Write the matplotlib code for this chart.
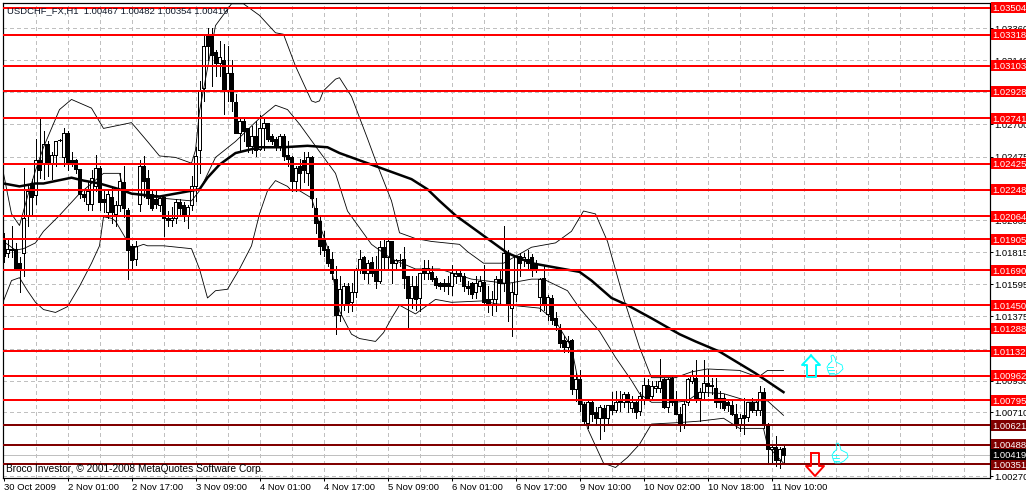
import matplotlib
matplotlib.use("Agg")
import matplotlib.pyplot as plt
import numpy as np
from matplotlib.patches import Rectangle
from matplotlib.lines import Line2D
from matplotlib.transforms import blended_transform_factory

# ---- data: pips above 1.0000, hourly bars ----
opens = [191,181,183,184,174,181,207,229,221,245,
 243,256,243,249,259,247,264,245,245,239,
 222,215,215,227,240,218,209,220,208,214,
 230,211,186,177,215,241,233,222,218,214,
 220,205,204,205,216,214,207,214,227,252,
 295,332,332,320,312,314,293,305,285,264,
 272,267,255,262,253,267,271,262,260,255,
 262,249,247,231,241,245,236,247,212,203,
 191,184,177,163,138,146,158,147,154,170,
 178,167,175,170,162,185,178,189,174,176,
 177,165,150,158,150,171,167,168,164,160,
 160,160,158,165,167,165,158,160,154,158,
 161,149,146,149,163,160,181,143,153,179,
 176,177,178,173,151,164,139,150,136,129,
 121,116,121,87,94,77,64,78,71,67,
 74,67,76,73,79,78,84,74,78,72,
 80,90,82,88,88,94,75,95,79,70,
 62,78,93,95,81,85,91,89,88,81,
 81,78,76,70,63,69,68,78,73,73,
 85,62,46,47,38,46.7]
highs = [195,190,200,188,178,240,227,232,260,274,
 265,258,251,258,260,267,265,251,246,239,
 225,231,238,249,241,224,224,227,217,236,
 241,212,187,189,245,248,238,224,224,220,
 220,210,213,218,218,216,214,234,254,300,
 331,336,336,321,327,325,324,314,291,274,
 274,267,269,272,276,274,271,263,261,263,
 263,258,248,241,246,251,251,248,219,206,
 196,186,182,172,165,160,160,160,171,183,
 179,176,178,179,189,191,191,189,177,180,
 185,165,165,165,167,176,176,172,165,161,
 163,165,173,170,170,167,162,161,165,165,
 173,158,155,165,170,200,183,160,179,181,
 181,183,180,176,164,172,152,152,140,132,
 124,124,122,98,100,78,80,80,75,76,
 76,76,85,86,86,85,85,82,79,85,
 95,94,93,93,108,95,95,96,86,75,
 79,95,100,107,88,107,101,95,95,86,
 84,80,80,77,70,81,78,81,80,89,
 88,64,49,55,47,48.2]
lows = [175,178,178,170,154,165,200,207,215,233,
 232,234,232,241,258,241,238,241,236,219,
 217,211,211,224,211,209,205,202,200,210,
 206,163,170,173,210,220,215,211,212,210,
 193,200,200,202,207,203,198,211,217,236,
 286,314,296,303,303,277,286,279,264,251,
 258,251,250,248,252,252,258,256,252,252,
 245,241,224,224,225,230,228,213,195,180,
 179,172,163,125,134,142,140,141,151,167,
 163,160,165,157,160,171,170,160,170,172,
 157,130,143,142,141,163,163,162,157,156,
 155,153,152,160,162,155,153,150,150,155,
 145,140,138,141,145,155,134,124,148,165,
 172,170,165,168,141,142,135,132,128,116,
 113,113,84,79,72,62,60,65,63,53,
 58,62,70,71,72,75,71,71,67,69,
 77,80,80,85,85,74,71,76,70,58,
 60,76,91,78,65,80,82,84,75,74,
 73,72,69,60,58,56,65,71,69,69,
 60,36,36,34,33,35.4]
closes = [179,184,184,171,169,205,224,220,245,238,
 256,243,249,258,259,264,244,244,239,222,
 220,224,233,240,216,216,222,209,214,231,
 212,183,176,186,241,231,219,212,215,219,
 205,204,205,216,212,207,213,227,248,293,
 324,324,318,312,316,293,305,286,264,272,
 265,255,262,252,267,271,260,258,255,262,
 248,246,231,240,236,238,247,219,202,186,
 183,174,167,138,156,158,145,154,170,177,
 167,174,167,162,185,178,189,174,176,176,
 164,150,158,149,167,167,171,163,159,158,
 158,158,167,167,165,158,157,153,160,162,
 147,146,149,163,160,181,145,154,179,174,
 178,174,171,171,163,145,151,135,131,119,
 116,120,87,94,77,65,78,70,67,75,
 67,76,73,78,78,84,78,78,71,82,
 90,81,89,89,93,75,94,78,70,62,
 77,94,96,81,85,91,89,90,78,78,
 74,76,70,63,67,67,78,73,78,85,
 62,46,47,38,46,41.9]

upper_bars = [0,2,4,6,8,10,14,17,22,25,32,36,39,43,47,48,49,53,57,60,64,68,70,73,77,78,79,80,83,84,87,91,93,97,99,103,107,114,116,120,125,132,138,142,145,148,151,155,159,162,168,172,176,184,187,189,191,195]
upper_pips = [236,208,200,220,238,254,280,287,281,267,271,258,248,247,243,252,279,338,353,353,345,333,332,310,286,285,286,293,301,302,289,260,245,217,195,191,189,187,182,174,174,185,188,196,210,208,189,150,116,95,95,99,101,100,97,96,100,100]
mid_bars = [0,3,5,8,10,14,19,25,29,30,32,36,39,47,49,53,58,64,68,71,74,79,83,86,92,97,103,109,117,126,132,135,141,144,149,153,157,159,162,168,171,174,180,186,191,195]
mid_pips = [189,183,184,188,196,207,222,236,236,225,222,220,219,217,224,247,258,274,283,280,270,251,236,210,187,177,170,170,163,160,163,163,155,143,127,109,93,84,78,78,79,85,84,79,79,69]
lower_bars = [0,2,4,6,8,10,13,16,19,22,24,25,27,28,31,32,35,36,40,47,49,51,53,56,59,62,64,66,68,71,72,74,77,79,81,84,87,89,93,95,97,99,103,108,112,120,123,134,138,142,146,150,153,156,159,162,169,174,180,184,190,191,195]
lower_pips = [148,162,164,155,147,142,140,144,158,174,186,206,205,203,189,184,187,186,186,184,170,150,155,156,170,186,208,224,231,227,224,224,219,201,185,141,125,122,120,126,136,145,139,149,147,148,146,143,134,116,60,36,33,40,49,63,64,65,67,60,60,48,36]
ma_bars = [0,4,8,10,17,20,24,29,32,39,43,49,51,54,58,64,70,76,81,84,93,102,106,109,113,120,126,132,138,144,147,152,156,162,169,173,179,188,195]
ma_pips = [229,227,229,229,233,231,229,225,222,220,222,225,233,242,250,254,254,255,254,250,241,232,225,217,207,193,181,174,171,168,162,150,145,136,125,120,113,98,85]

red_levels = [1.03504,1.03318,1.03103,1.02928,1.02741,1.02425,1.02248,1.02064,1.01905,1.01690,1.01450,1.01288,1.01132,1.00962,1.00795]
dark_levels = [1.00621,1.00488,1.00351]
last_price = 1.00419
price_ticks = [1.00270,1.00490,1.00710,1.00930,1.01150,1.01375,1.01595,1.01815,1.02035,1.02255,1.02475,1.02700,1.02920,1.03140,1.03360]
time_labels = ["30 Oct 2009","2 Nov 01:00","2 Nov 17:00","3 Nov 09:00","4 Nov 01:00","4 Nov 17:00","5 Nov 09:00","6 Nov 01:00","6 Nov 17:00","9 Nov 10:00","10 Nov 02:00","10 Nov 18:00","11 Nov 10:00"]

W, H = 1026, 495
plt.rcParams['font.family'] = ['Liberation Sans', 'DejaVu Sans']
FS = 6.8
PX = 0.72
THIN = 0.6
fig = plt.figure(figsize=(W/100, H/100), dpi=100, facecolor='white')
ax = fig.add_axes([2.5/W, 1-477.5/H, 987/W, 475/H])
ax.set_xlim(-0.25, 246.5)
ax.set_ylim(1.00261, 1.03539)

def price(p):
    return 1 + np.asarray(p, dtype=float)/1e4

o, h, l, c = map(price, (opens, highs, lows, closes))
n = np.arange(len(o))

# grid
ax.vlines(np.arange(8, 244, 8), 1.00261, 1.03539, color='#c0c0c0', lw=PX, linestyle=(0,(4,4)), zorder=0, antialiased=False)
ax.hlines(price_ticks, -0.25, 246.5, color='#c0c0c0', lw=PX, linestyle=(0,(4,4)), zorder=0, antialiased=False)
ax.axhline(last_price, color='#c0c0c0', lw=PX, zorder=1, antialiased=False)

# candles
ax.vlines(n, l, h, color='black', lw=PX, zorder=2, antialiased=False)
up = c >= o
bottoms = np.minimum(o, c)
heights = np.maximum(np.abs(c-o), 0.00001)
ax.bar(n, heights, bottom=bottoms, width=0.55, color=np.where(up, 'white', 'black').tolist(),
       edgecolor='black', lw=PX, zorder=2.5, antialiased=False)

# indicators
ax.plot(upper_bars, price(upper_pips), color='black', lw=THIN, zorder=3)
ax.plot(mid_bars, price(mid_pips), color='black', lw=THIN, zorder=3)
ax.plot(lower_bars, price(lower_pips), color='black', lw=THIN, zorder=3)
ax.plot(ma_bars, price(ma_pips), color='black', lw=1.8, zorder=3.2)

# levels
ax.hlines(red_levels, -0.25, 246.5, color='#ff0000', lw=1.44, zorder=4, antialiased=False)
ax.hlines(dark_levels, -0.25, 246.5, color='#800000', lw=1.44, zorder=4, antialiased=False)

# axes
for s in ax.spines.values():
    s.set_linewidth(PX*1.2)
    s.set_color('black')
ax.yaxis.tick_right()
ax.set_yticks(price_ticks)
ax.set_yticklabels([f"{v:.5f}" for v in price_ticks], fontsize=FS, color='black')
ax.tick_params(axis='y', length=2.2, width=PX, pad=1.5)
ax.set_xticks(np.arange(len(time_labels))*16)
ax.set_xticklabels(time_labels, fontsize=FS, ha='left', color='black')
ax.tick_params(axis='x', length=2.2, width=PX, pad=2)

# price flags
bt = blended_transform_factory(ax.transAxes, ax.transData)
xbox = (990.5-2.5)/987
ph = 6.9e-5
def flag(v, color):
    ax.add_patch(Rectangle((xbox, v-5.5*ph), 37/987, 11*ph, transform=bt, facecolor=color, edgecolor='none', clip_on=False, zorder=6))
    ax.text((992.5-2.5)/987, v, f"{v:.5f}", transform=bt, color='white', fontsize=FS, va='center_baseline', ha='left', clip_on=False, zorder=7)
for v in red_levels:
    flag(v, '#ff0000')
for v in dark_levels:
    flag(v, '#800000')
flag(last_price, '#000000')

# captions
fig.text(7/W, 1-10.5/H, "USDCHF_FX,H1  1.00467 1.00482 1.00354 1.00419", fontsize=6.8, color='#101828', va='center', ha='left', zorder=8)
fig.text(6/W, 1-469.5/H, "Broco Investor, © 2001-2008 MetaQuotes Software Corp.", fontsize=7.3, color='black', va='center', ha='left', zorder=8)

# chart objects (arrows, thumbs), placed in image pixels
def pxline(pts, color, lw=1.4, z=8, aa=True):
    xs = [p[0]/W for p in pts]
    ys = [1-p[1]/H for p in pts]
    fig.add_artist(Line2D(xs, ys, transform=fig.transFigure, color=color, lw=lw, zorder=z, antialiased=aa))

pxline([(811,355.5),(820,365),(816,365),(816,377),(807,377),(807,365),(802,365),(811,355.5)], '#00ffff')
pxline([(811,453),(819,453),(819,466),(824,466),(815,476),(806,466),(811,466),(811,453)], '#ff0000')

def thumb(x0, y0):
    outline = [(2,9),(5,6),(4,1),(6,0),(8,3),(9,7),(15,10),(16,14),(12,18),(8,20),(3,20),(1,16),(0,12),(2,9)]
    pxline([(x0+a, y0+b) for a, b in outline], '#00ffff', lw=0.6)
    for a1, a2, b in [(1,6,12),(1,7,15),(2,7,18)]:
        pxline([(x0+a1, y0+b),(x0+a2, y0+b)], '#00ffff', lw=0.6)
thumb(827, 355)
thumb(832, 443)

fig.savefig('out.png', dpi=100, facecolor='white')
